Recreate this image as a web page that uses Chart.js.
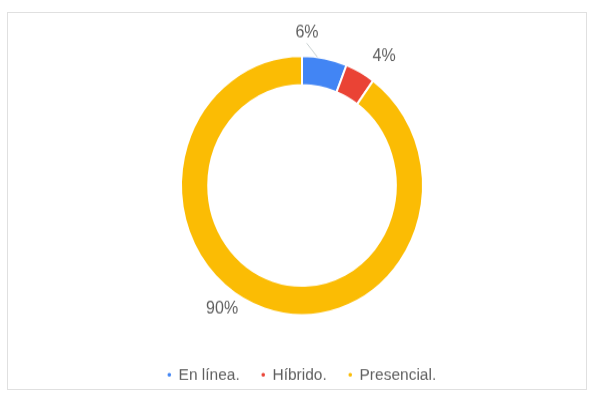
<!DOCTYPE html>
<html>
<head>
<meta charset="utf-8">
<script src="https://cdn.jsdelivr.net/npm/chart.js@4.4.1/dist/chart.umd.min.js"></script>
<style>
    html, body { margin: 0; padding: 0; background: #fff; width: 589px; height: 393px; overflow: hidden; }
    #frame { position: absolute; left: 7px; top: 12px; width: 580px; height: 378px; border: 1px solid #e0e0e0; box-sizing: border-box; }
    /* il grafico è leggermente allungato in verticale */
    #stretch { position: absolute; left: 0; top: 0; width: 589px; height: 370px; transform: scaleY(1.07); transform-origin: 0 0; }
</style>
</head>
<body>
<div id="frame"></div>
<div id="stretch"><canvas id="myChart"></canvas></div>
<script>
// modalità di frequenza (percentuali)
const categories = ['En línea.', 'Híbrido.', 'Presencial.'];
const shares = [6, 4, 90];
const colors = ['#4285F4', '#EA4335', '#FBBC04'];

// etichette percentuali fuori dall'anello (con linea guida dove serve)
const sliceLabels = {
    id: 'sliceLabels',
    afterDatasetsDraw(chart, args, opts) {
        const ctx = chart.ctx;
        const meta = chart.getDatasetMeta(0);
        ctx.save();
        ctx.font = opts.font;
        ctx.fillStyle = opts.color;
        ctx.textAlign = 'center';
        ctx.textBaseline = 'middle';
        meta.data.forEach((arc, i) => {
            const p = arc.getProps(['x', 'y', 'startAngle', 'endAngle', 'outerRadius'], true);
            const mid = (p.startAngle + p.endAngle) / 2;
            const a = mid + opts.shift[i] * Math.PI / 180;
            const r = p.outerRadius + opts.gap[i];
            if (opts.leader[i]) {
                const b = mid + opts.shift[i] * 0.4 * Math.PI / 180;
                ctx.beginPath();
                ctx.moveTo(p.x + Math.cos(a) * (p.outerRadius + 12), p.y + Math.sin(a) * (p.outerRadius + 12));
                ctx.lineTo(p.x + Math.cos(b) * p.outerRadius, p.y + Math.sin(b) * p.outerRadius);
                ctx.strokeStyle = opts.leaderColor;
                ctx.lineWidth = 1;
                ctx.stroke();
            }
            ctx.fillText(shares[i] + '%', p.x + Math.cos(a) * r, p.y + Math.sin(a) * r);
        });
        ctx.restore();
    }
};

const ctx = document.getElementById('myChart').getContext('2d');
const myChart = new Chart(ctx, {
    type: 'doughnut',
    data: {
        labels: categories,
        datasets: [
            {
                data: shares,
                backgroundColor: colors,
                borderColor: '#ffffff',
                borderWidth: 2,
                radius: 121,
                cutout: '77.5%',
            }
        ]
    },
    options: {
        responsive: true,
        maintainAspectRatio: false,
        animation: false,
        layout: {
            padding: { top: 26, bottom: 2, left: 15, right: 0 }
        },
        plugins: {
            legend: {
                position: 'bottom',
                labels: {
                    usePointStyle: true,
                    pointStyle: 'circle',
                    boxWidth: 3,
                    boxHeight: 4,
                    padding: 22,
                    color: '#5f5f5f',
                    font: { family: 'Liberation Sans, Arial, sans-serif', size: 15.5 }
                }
            },
            tooltip: { enabled: false },
            sliceLabels: {
                font: '16px "Liberation Sans", Arial, sans-serif',
                color: '#5f5f5f',
                gap: [22, 25, 19],
                shift: [-8.8, 5.4, 16.8],
                leader: [true, false, false],
                leaderColor: '#c8d0d0'
            }
        }
    },
    plugins: [sliceLabels]
});
</script>
</body>
</html>
